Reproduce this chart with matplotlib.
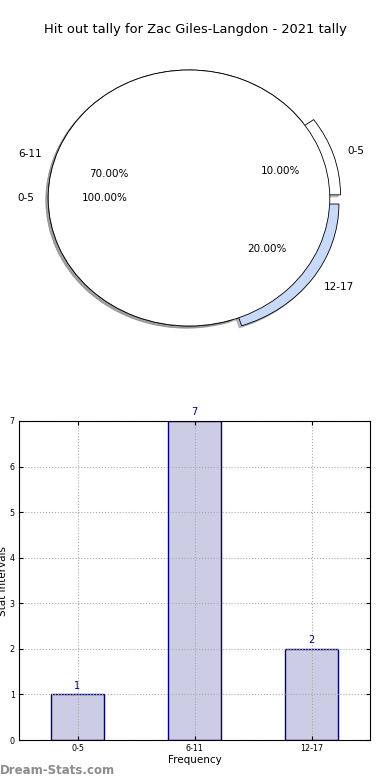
import matplotlib
matplotlib.use("Agg")
import matplotlib.pyplot as plt

title = "Hit out tally for Zac Giles-Langdon - 2021 tally"
labels = ["0-5", "6-11", "12-17"]
counts = [1, 7, 2]
explode = [0.08, 0.0, 0.08]
pie_colors = ["white", "#d5d5ec", "#c8daf9"]

# the second (full) pie drawn on top of the first one
top_labels = ["0-5"]
top_values = [1]

fig = plt.figure(figsize=(3.9, 7.8), dpi=100)
fig.text(0.5, 1 - 30 / 780, title, ha="center", va="center", fontsize=9.4)

shade = dict(ox=-0.012, oy=-0.012, shade=0.45)

# --- pie ---
ax1 = fig.add_axes([13 / 390, 1 - 358 / 780, 352 / 390, 320 / 780])
ax1.pie(counts, labels=labels, explode=explode, colors=pie_colors,
        autopct="%.2f%%", shadow=shade, startangle=0,
        wedgeprops=dict(edgecolor="black", linewidth=0.6),
        textprops=dict(fontsize=7.5))
ax1.pie(top_values, labels=top_labels, colors=["white"],
        autopct="%.2f%%", shadow=shade, startangle=0,
        wedgeprops=dict(edgecolor="black", linewidth=0.6),
        textprops=dict(fontsize=7.5))
ax1.set_aspect("auto")
ax1.set_xlim(-1.25, 1.25)
ax1.set_ylim(-1.25, 1.25)
ax1.axis("off")

# --- bars ---
ax2 = fig.add_axes([19 / 390, 1 - 740 / 780, 351 / 390, 319 / 780])
x = range(len(labels))
bars = ax2.bar(x, counts, width=0.45, color="#ccccE4", edgecolor="navy", linewidth=1)
for b, v in zip(bars, counts):
    ax2.text(b.get_x() + b.get_width() / 2, v + 0.08, str(v),
             ha="center", va="bottom", color="navy", fontsize=7)
ax2.set_xlim(-0.5, 2.5)
ax2.set_ylim(0, 7)
ax2.set_xticks(list(x))
ax2.set_xticklabels(labels)
ax2.set_yticks(range(0, 8))
ax2.tick_params(labelsize=5.8, direction="in", top=True, right=True, length=3, pad=3)
ax2.grid(True, linestyle=":", color="#aaaaaa", linewidth=0.8)
ax2.set_xlabel("Frequency", fontsize=7.5, labelpad=1)
ax2.set_ylabel("Stat Intervals", fontsize=7.5)
ax2.yaxis.set_label_coords(-0.031, 0.5)

fig.text(0.0, 1 - 771 / 780, "Dream-Stats.com", ha="left", va="center",
         fontsize=8.5, color="#8c8c8c", fontweight="bold")

fig.savefig("out.png", dpi=100)
